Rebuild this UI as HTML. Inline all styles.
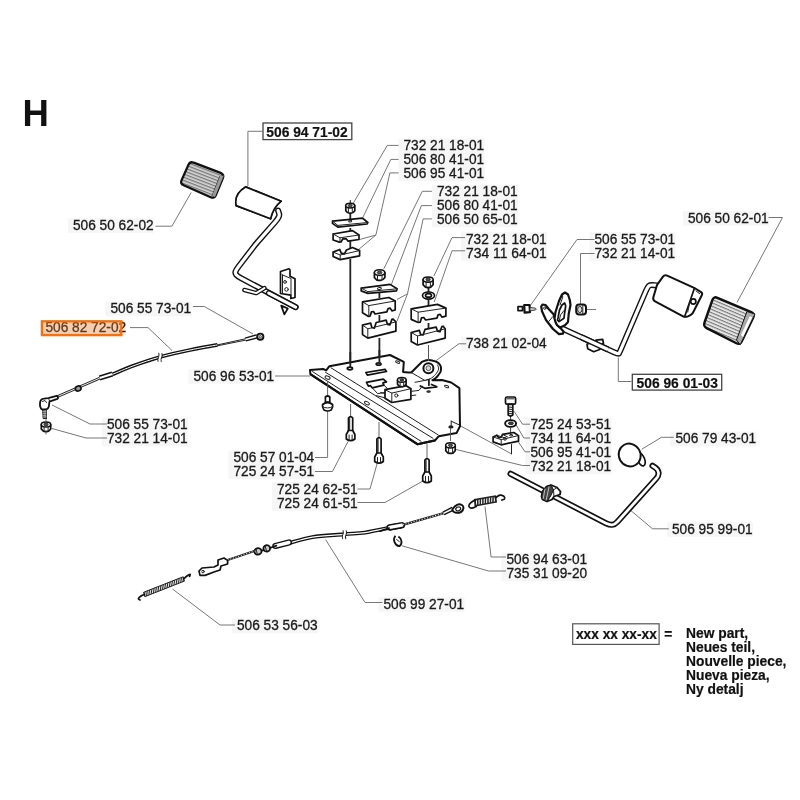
<!DOCTYPE html>
<html><head><meta charset="utf-8"><title>H</title>
<style>
html,body{margin:0;padding:0;background:#fff;}
svg{display:block;font-family:"Liberation Sans",sans-serif;}
.t{font-size:13.8px;fill:#1a1a1a;stroke:#1a1a1a;stroke-width:0.3px;}
.b{font-size:13.8px;font-weight:bold;fill:#111;stroke:#111;stroke-width:0.2px;}
.ld{fill:none;stroke:#777;stroke-width:1;}
.p{fill:none;stroke:#111;stroke-width:1.7;stroke-linejoin:round;stroke-linecap:round;}
.pf{fill:#fff;stroke:#111;stroke-width:1.7;stroke-linejoin:round;stroke-linecap:round;}
.th{fill:none;stroke:#222;stroke-width:1;stroke-linejoin:round;stroke-linecap:round;}
.thf{fill:#fff;stroke:#222;stroke-width:1;stroke-linejoin:round;stroke-linecap:round;}
</style></head><body>
<svg width="800" height="800" viewBox="0 0 800 800">
<rect width="800" height="800" fill="#fff"/>
<rect x="667.0" y="522.2" width="86" height="14.5" fill="#f6f6f6"/>
<rect x="501.5" y="566.7" width="86" height="14.5" fill="#f6f6f6"/>
<rect x="501.5" y="552.7" width="86" height="14.5" fill="#f6f6f6"/>
<rect x="378.5" y="597.2" width="86" height="14.5" fill="#f6f6f6"/>
<rect x="232.0" y="618.7" width="86" height="14.5" fill="#f6f6f6"/>
<rect x="272.0" y="496.2" width="86" height="14.5" fill="#f6f6f6"/>
<rect x="272.0" y="482.2" width="86" height="14.5" fill="#f6f6f6"/>
<rect x="228.5" y="464.7" width="86" height="14.5" fill="#f6f6f6"/>
<rect x="228.5" y="450.7" width="86" height="14.5" fill="#f6f6f6"/>
<rect x="102.0" y="431.7" width="86" height="14.5" fill="#f6f6f6"/>
<rect x="102.0" y="417.7" width="86" height="14.5" fill="#f6f6f6"/>
<rect x="188.5" y="369.2" width="86" height="14.5" fill="#f6f6f6"/>
<rect x="40.5" y="320.7" width="86" height="14.5" fill="#f6f6f6"/>
<rect x="105.5" y="301.7" width="86" height="14.5" fill="#f6f6f6"/>
<rect x="670.5" y="431.7" width="86" height="14.5" fill="#f6f6f6"/>
<rect x="525.5" y="459.7" width="86" height="14.5" fill="#f6f6f6"/>
<rect x="525.5" y="445.7" width="86" height="14.5" fill="#f6f6f6"/>
<rect x="525.5" y="431.7" width="86" height="14.5" fill="#f6f6f6"/>
<rect x="525.5" y="417.7" width="86" height="14.5" fill="#f6f6f6"/>
<rect x="461.0" y="336.7" width="86" height="14.5" fill="#f6f6f6"/>
<rect x="683.0" y="211.2" width="86" height="14.5" fill="#f6f6f6"/>
<rect x="589.5" y="246.2" width="86" height="14.5" fill="#f6f6f6"/>
<rect x="589.5" y="232.2" width="86" height="14.5" fill="#f6f6f6"/>
<rect x="461.0" y="246.2" width="86" height="14.5" fill="#f6f6f6"/>
<rect x="461.0" y="232.2" width="86" height="14.5" fill="#f6f6f6"/>
<rect x="432.0" y="212.7" width="86" height="14.5" fill="#f6f6f6"/>
<rect x="432.0" y="198.7" width="86" height="14.5" fill="#f6f6f6"/>
<rect x="432.0" y="184.7" width="86" height="14.5" fill="#f6f6f6"/>
<rect x="398.5" y="166.7" width="86" height="14.5" fill="#f6f6f6"/>
<rect x="398.5" y="152.7" width="86" height="14.5" fill="#f6f6f6"/>
<rect x="398.5" y="138.7" width="86" height="14.5" fill="#f6f6f6"/>
<rect x="68.0" y="218.3" width="86" height="14.5" fill="#f6f6f6"/>
<rect x="263" y="123" width="88.8" height="16.6" fill="#fff" stroke="#444" stroke-width="1.3"/>
<rect x="632.3" y="374.3" width="89.4" height="15.8" fill="#fff" stroke="#444" stroke-width="1.3"/>
<rect x="572.7" y="623.8" width="86.4" height="20.6" fill="#fff" stroke="#555" stroke-width="1.2"/>
<path class="ld" d="M155.5,226.2 L171.9,226.2 L191.2,192.5"/>
<path class="ld" d="M262.5,131.3 L247.9,131.3 L247.9,186.0"/>
<path class="ld" d="M398.6,145.4 L387.3,145.4 L353.1,203.5"/>
<path class="ld" d="M398.6,159.4 L390.8,159.4 L362.8,217.5"/>
<path class="ld" d="M398.6,172.9 L389.9,172.9 L375.9,235.0 L360.1,239.4"/>
<path class="ld" d="M375.9,235.0 L357.5,250.4"/>
<path class="ld" d="M431.9,191.3 L422.3,191.3 L383.8,268.8"/>
<path class="ld" d="M431.9,205.6 L421.4,205.6 L391.2,285.0"/>
<path class="ld" d="M431.9,218.9 L423.1,218.9 L407.5,293.8 L397.0,299.5"/>
<path class="ld" d="M407.5,293.8 L397.0,321.2"/>
<path class="ld" d="M465.1,237.6 L452.0,237.6 L433.8,276.2"/>
<path class="ld" d="M465.1,250.8 L452.0,250.8 L434.2,302.0"/>
<path class="ld" d="M275.0,376.0 L310.0,376.0"/>
<path class="ld" d="M466.2,343.8 L458.8,343.8 L436.2,360.6"/>
<path class="ld" d="M315.0,457.5 L327.6,457.5 L327.6,411.0"/>
<path class="ld" d="M315.0,471.5 L332.5,471.5 L348.0,441.5"/>
<path class="ld" d="M357.5,489.0 L370.0,489.0 L377.0,464.0"/>
<path class="ld" d="M357.5,502.5 L385.0,502.5 L422.0,481.5"/>
<path class="ld" d="M530.0,465.5 L522.5,465.5 L456.0,449.5"/>
<path class="ld" d="M451.3,420.8 L511.3,453.8"/>
<path class="ld" d="M530.0,424.2 L522.5,424.2 L514.0,411.2"/>
<path class="ld" d="M530.0,438.0 L523.8,438.0 L516.2,425.0"/>
<path class="ld" d="M530.0,451.8 L525.0,451.8 L518.5,442.0"/>
<path class="ld" d="M587.0,309.5 L596.0,309.5"/>
<path class="ld" d="M594.5,239.5 L577.0,239.5 L530.0,306.0"/>
<path class="ld" d="M594.5,253.5 L580.5,253.5 L580.5,304.0"/>
<path class="ld" d="M631.5,381.5 L618.3,381.5 L618.3,357.5"/>
<path class="ld" d="M768.5,217.5 L782.5,217.5 L737.0,302.5"/>
<path class="ld" d="M673.8,437.3 L661.5,437.3 L641.8,449.2"/>
<path class="ld" d="M668.8,528.8 L652.5,528.8 L628.8,508.8"/>
<path class="ld" d="M192.9,306.5 L204.3,306.5 L253.0,334.0"/>
<path class="ld" d="M130.0,327.6 L148.0,327.6 L172.0,350.5"/>
<path class="ld" d="M107.0,424.0 L90.0,424.0 L52.0,405.0"/>
<path class="ld" d="M107.0,438.0 L86.0,438.0 L52.0,428.5"/>
<path class="ld" d="M382.5,602.5 L365.0,602.5 L325.6,539.6"/>
<path class="ld" d="M506.0,571.0 L488.5,571.0 L402.0,545.8"/>
<path class="ld" d="M506.0,557.0 L491.1,557.0 L485.0,506.5"/>
<path class="ld" d="M235.0,625.0 L220.0,625.0 L172.5,589.0"/>
<defs><pattern id="ribs" width="3" height="3" patternUnits="userSpaceOnUse" patternTransform="rotate(21)"><rect width="3" height="3" fill="#d8d8d8"/><rect width="3" height="1.3" fill="#777"/></pattern><pattern id="ribs2" width="3" height="3" patternUnits="userSpaceOnUse" patternTransform="rotate(112)"><rect width="3" height="3" fill="#e4e4e4"/><rect width="3" height="1.2" fill="#666"/></pattern></defs>
<path d="M188.4,164.9 Q190.0,161.2 193.7,162.7 L220.6,172.9 Q224.4,174.4 222.9,178.1 L215.9,195.0 Q214.4,198.8 210.7,197.2 L183.7,185.3 Q180.0,183.8 181.6,180.1 Z" fill="url(#ribs)" stroke="#111" stroke-width="2.3" stroke-linejoin="round"/>
<path class="th" d="M219.8,176.5 L212.2,195.6"/>
<path d="M220.0,176.2 L223.8,175.6 L215.0,196.9 L212.2,195.6 Z" fill="#999" stroke="none"/>
<path class="pf" d="M245.6,186.9 L281.2,201.2 Q273.1,207.5 270.6,218.8 L236.2,205.6 Q233.8,193.8 245.6,186.9 Z"/>
<path d="M278.1,210.6 L278.9,212.8 Q279.8,215.0 278.6,217.2 L278.6,217.2 Q277.5,219.4 274.9,222.4 L257.6,242.0 Q255.0,245.0 252.6,248.2 L238.4,266.8 Q236.0,270.0 235.5,271.6 L235.5,271.6 Q235.0,273.1 236.2,274.7 L236.2,274.7 Q237.5,276.2 241.0,278.1 L295.6,307.1" fill="none" stroke="#111" stroke-width="6.00" stroke-linecap="round" stroke-linejoin="round"/>
<path d="M278.1,210.6 L278.9,212.8 Q279.8,215.0 278.6,217.2 L278.6,217.2 Q277.5,219.4 274.9,222.4 L257.6,242.0 Q255.0,245.0 252.6,248.2 L238.4,266.8 Q236.0,270.0 235.5,271.6 L235.5,271.6 Q235.0,273.1 236.2,274.7 L236.2,274.7 Q237.5,276.2 241.0,278.1 L295.6,307.1" fill="none" stroke="#fff" stroke-width="3.20" stroke-linecap="round" stroke-linejoin="round"/>
<path class="pf" d="M245.6,186.9 L281.2,201.2 Q273.1,207.5 270.6,218.8 L236.2,205.6 Q233.8,193.8 245.6,186.9 Z"/>
<path d="M264.4,288.1 L256.2,293.1 L244.4,290.0" fill="none" stroke="#111" stroke-width="4.50" stroke-linecap="round" stroke-linejoin="round"/>
<path d="M264.4,288.1 L256.2,293.1 L244.4,290.0" fill="none" stroke="#fff" stroke-width="1.90" stroke-linecap="round" stroke-linejoin="round"/>
<path class="pf" d="M280.5,271.5 L289.0,268.8 L290.0,270.0 L290.0,276.2 L295.0,278.8 L295.0,297.5 L290.8,298.5 L290.8,295.2 L280.5,293.5 Z"/>
<path class="th" d="M282.2,274.8 L291.0,278.5 L291.0,295.2"/>
<path class="th" d="M282.5,275.0 L282.5,293.1"/>
<circle class="th" cx="285.0" cy="281.9" r="1.4"/>
<circle class="th" cx="286.5" cy="289.4" r="1.8"/>
<path class="pf" d="M281.2,305.6 L284.4,314.4 L287.8,308.5 Z"/>
<path d="M268.8,293.1 L295.6,307.1" fill="none" stroke="#111" stroke-width="6.00" stroke-linecap="round" stroke-linejoin="round"/>
<path d="M268.8,293.1 L295.6,307.1" fill="none" stroke="#fff" stroke-width="3.20" stroke-linecap="round" stroke-linejoin="round"/>
<path d="M350.3,200.0 L350.3,203.0" stroke="#222" stroke-width="1.0" fill="none"/>
<path d="M350.3,213.0 L350.3,221.0" stroke="#222" stroke-width="1.8" fill="none"/>
<path d="M350.3,228.0 L350.3,234.0" stroke="#222" stroke-width="1.8" fill="none"/>
<path d="M350.3,241.0 L350.3,249.0" stroke="#222" stroke-width="1.8" fill="none"/>
<path d="M350.3,259.0 L350.3,367.0" stroke="#222" stroke-width="1.8" fill="none"/>
<path class="pf" d="M332.5,221.2 L362.5,218.1 L367.8,222.5 L367.2,224.0 L337.8,227.1 L332.5,223.4 Z"/>
<path class="th" d="M332.5,221.2 L337.8,225.4 L367.8,222.5"/>
<path class="th" d="M337.8,225.4 L337.8,227.1"/>
<ellipse class="th" cx="350.2" cy="221.2" rx="1.6" ry="0.8" transform="rotate(-8 350.2 221.2)"/>
<path class="pf" d="M333.1,234.0 L352.5,230.6 L359.0,235.0 L359.0,239.5 L348.1,241.2 L346.2,238.8 L342.8,238.8 L341.0,242.0 L339.4,242.1 L333.1,240.0 Z"/>
<path class="th" d="M333.1,234.0 L340.0,237.8 L359.0,235.0"/>
<path class="th" d="M340.0,237.8 L340.0,242.0"/>
<path class="pf" d="M333.1,252.1 L339.8,249.5 L341.2,253.1 L344.4,253.8 L346.5,250.0 L352.5,247.5 L359.6,250.6 L359.6,255.8 L340.2,259.6 L333.1,256.5 Z"/>
<path class="th" d="M333.1,252.1 L340.2,255.0 L359.6,250.6"/>
<path class="th" d="M340.2,255.0 L340.2,259.6"/>
<path class="pf" d="M345.8,205.6 L345.8,210.7 Q348.0,213.9 350.2,213.1 Q352.5,213.9 354.8,210.7 L354.8,205.6 Z" fill="#eee"/>
<ellipse cx="350.2" cy="205.6" rx="4.5" ry="2.4" fill="#fff" stroke="#111" stroke-width="1.5"/>
<ellipse cx="350.2" cy="205.6" rx="2.0" ry="1.2" fill="#555" stroke="#111" stroke-width="0.8"/>
<path class="th" d="M348.4,208.0 L348.4,212.6 M352.3,208.0 L352.3,212.6" stroke="#888"/>
<path d="M379.4,286.0 L379.4,289.0" stroke="#222" stroke-width="1.8" fill="none"/>
<path d="M379.4,292.0 L379.4,298.0" stroke="#222" stroke-width="1.8" fill="none"/>
<path d="M379.4,315.0 L379.4,321.0" stroke="#222" stroke-width="1.8" fill="none"/>
<path d="M379.4,338.0 L379.4,363.0" stroke="#222" stroke-width="1.8" fill="none"/>
<path class="pf" d="M361.2,288.1 L390.0,284.4 L397.1,288.8 L396.5,290.8 L367.8,293.4 L361.2,290.9 Z"/>
<path class="th" d="M361.2,288.1 L367.8,291.6 L397.1,288.8"/>
<path class="th" d="M367.8,291.6 L367.8,293.4"/>
<ellipse class="th" cx="379.4" cy="288.5" rx="2.0" ry="1.0" transform="rotate(-8 379.4 288.5)"/>
<path class="pf" d="M362.5,301.9 L388.8,297.5 L395.2,301.0 L395.2,310.0 L391.9,310.9 L390.2,308.1 L388.1,308.5 L386.9,311.9 L375.0,314.0 L373.5,311.5 L371.5,311.9 L370.0,316.2 L368.5,316.5 L362.5,312.8 Z"/>
<path class="th" d="M362.5,301.9 L368.8,305.6 L395.2,301.0"/>
<path class="th" d="M368.8,305.6 L368.8,316.2"/>
<path class="pf" d="M362.5,325.0 L370.6,323.1 L371.9,327.5 L374.4,328.1 L376.2,322.5 L386.2,320.2 L387.5,324.4 L390.0,324.8 L391.9,319.4 L393.1,319.1 L395.9,321.9 L395.9,331.2 L367.8,338.1 L362.5,334.6 Z"/>
<path class="th" d="M362.5,325.0 L367.8,328.8 L395.9,321.9"/>
<path class="th" d="M367.8,328.8 L367.8,338.1"/>
<path class="pf" d="M374.4,272.6 L374.4,277.4 Q377.0,281.1 379.6,280.2 Q382.2,281.1 384.9,277.4 L384.9,272.6 Z" fill="#eee"/>
<ellipse cx="379.6" cy="272.6" rx="5.2" ry="2.8" fill="#fff" stroke="#111" stroke-width="1.5"/>
<ellipse cx="379.6" cy="272.6" rx="2.4" ry="1.4" fill="#555" stroke="#111" stroke-width="0.8"/>
<path class="th" d="M377.5,275.4 L377.5,279.8 M382.0,275.4 L382.0,279.8" stroke="#888"/>
<path d="M428.5,288.0 L428.5,292.0" stroke="#222" stroke-width="1.8" fill="none"/>
<path d="M428.5,299.0 L428.5,306.0" stroke="#222" stroke-width="1.8" fill="none"/>
<path d="M428.5,323.0 L428.5,329.0" stroke="#222" stroke-width="1.8" fill="none"/>
<path d="M428.5,345.0 L428.5,361.0" stroke="#555" stroke-width="1.0" fill="none"/>
<path class="pf" d="M411.2,308.8 L437.5,304.4 L445.9,308.1 L445.9,316.2 L441.9,317.1 L440.2,314.4 L438.1,314.8 L436.9,318.1 L425.6,320.0 L423.8,317.5 L421.5,317.9 L420.2,322.2 L418.1,322.5 L411.2,319.4 Z"/>
<path class="th" d="M411.2,308.8 L418.1,312.2 L445.9,308.1"/>
<path class="th" d="M418.1,312.2 L418.1,322.5"/>
<path class="pf" d="M411.2,332.5 L419.4,330.4 L420.6,334.4 L423.1,335.0 L425.0,329.4 L436.2,327.2 L437.5,331.2 L440.0,331.6 L441.9,326.5 L443.1,326.2 L445.2,328.8 L445.2,338.1 L417.5,345.0 L411.2,341.5 Z"/>
<path class="th" d="M411.2,332.5 L417.5,336.0 L445.2,328.8"/>
<path class="th" d="M417.5,336.0 L417.5,345.0"/>
<ellipse class="pf" cx="428.5" cy="295.6" rx="6.0" ry="3.6" transform="rotate(0 428.5 295.6)"/>
<ellipse class="pf" cx="428.5" cy="295.4" rx="3.0" ry="1.7" transform="rotate(0 428.5 295.4)"/>
<path class="pf" d="M423.1,279.6 L423.1,284.7 Q425.6,288.2 428.1,287.4 Q430.6,288.2 433.1,284.7 L433.1,279.6 Z" fill="#eee"/>
<ellipse cx="428.1" cy="279.6" rx="5.0" ry="2.7" fill="#fff" stroke="#111" stroke-width="1.5"/>
<ellipse cx="428.1" cy="279.6" rx="2.2" ry="1.4" fill="#555" stroke="#111" stroke-width="0.8"/>
<path class="th" d="M426.1,282.3 L426.1,286.9 M430.4,282.3 L430.4,286.9" stroke="#888"/>
<path d="M310.0,370.0 L323.1,369.0 L326.2,370.4 L329.4,366.2 L390.0,355.0 L403.8,361.9 L403.1,371.9 L408.3,372.5 L411.3,372.5 L421.8,362.0 C422.3,361.8 423.6,361.0 424.8,360.7 C425.9,360.3 427.1,360.1 428.5,360.1 C429.9,360.1 431.5,360.3 433.0,360.7 C434.5,361.0 436.3,361.7 437.5,362.4 C438.7,363.1 439.5,364.1 440.1,365.0 C440.7,365.9 441.0,366.9 441.0,368.0 C441.1,369.1 441.0,370.6 440.5,371.8 C440.0,372.9 439.0,374.1 438.3,375.1 C437.5,376.1 437.0,376.9 436.0,377.8 C435.0,378.6 433.0,379.8 432.4,380.2 L442.0,380.0 L451.2,382.5 L459.4,388.1 L460.0,426.2 L456.5,433.1 L438.8,436.2 L435.0,440.5 L417.5,444.3 L310.4,374.2 Z" fill="#fff" stroke="#111" stroke-width="2" stroke-linejoin="round"/>
<path class="th" d="M312.5,371.6 L421.0,441.3"/>
<path class="th" d="M325.5,372.3 L433.0,438.3"/>
<path class="th" d="M331.0,367.8 L438.0,434.8"/>
<path d="M310.6,374.4 L417.5,444.2 L435,440.4" fill="none" stroke="#111" stroke-width="2.2" stroke-linejoin="round"/>
<path class="th" d="M437.5,365.0 C437.7,365.7 438.9,367.6 438.6,369.1 C438.3,370.7 437.0,372.8 435.6,374.4 C434.3,376.0 432.0,377.8 430.4,378.7 C428.8,379.7 426.6,379.9 425.9,380.2"/>
<circle cx="428.4" cy="368.2" r="5.0" fill="#fff" stroke="#111" stroke-width="2.0"/>
<circle cx="428.4" cy="368.2" r="2.4" fill="#ddd" stroke="#555" stroke-width="1.0"/>
<path class="th" d="M411.3,372.5 L424.8,380.4"/>
<path class="th" d="M415.0,382.3 L424.8,380.4 L430.0,378.9"/>
<path class="p" d="M428.9,380.0 L428.9,385.3"/>
<path class="p" d="M420.3,386.0 L424.8,388.3 L436.8,386.8 L431.5,384.5"/>
<ellipse class="th" cx="327.6" cy="377.6" rx="2.6" ry="1.5" transform="rotate(20 327.6 377.6)"/>
<ellipse class="th" cx="366.9" cy="403.1" rx="2.6" ry="1.4" transform="rotate(25 366.9 403.1)"/>
<ellipse class="p" cx="349.9" cy="368.5" rx="2.6" ry="1.3" transform="rotate(0 349.9 368.5)"/>
<ellipse class="p" cx="378.6" cy="364.0" rx="2.4" ry="1.2" transform="rotate(0 378.6 364.0)"/>
<ellipse class="th" cx="397.7" cy="362.1" rx="2.2" ry="1.0" transform="rotate(20 397.7 362.1)"/>
<ellipse class="th" cx="446.6" cy="386.5" rx="2.2" ry="1.0" transform="rotate(20 446.6 386.5)"/>
<ellipse cx="428.6" cy="391.6" rx="2.3" ry="1.3" fill="#333"/>
<ellipse cx="450.9" cy="426.9" rx="2.6" ry="1.6" fill="#222"/>
<path class="th" d="M451.2,421.2 L451.2,426.2"/>
<path class="th" d="M451.2,421.2 L459.4,425.0"/>
<path class="p" d="M365.9,372.5 L385.0,369.3 L386.5,371.5 L367.4,375.1 Z"/>
<path class="p" d="M366.5,382.3 L383.3,379.1 L386.5,381.9 L382.9,382.9 L383.9,385.1 L372.2,387.8 L370.5,385.7 L368.4,386.1 Z"/>
<path class="th" d="M372.2,387.8 L377.6,393.6 L385.0,392.5"/>
<path class="th" d="M383.9,385.1 L387.1,388.2"/>
<path class="pf" d="M385.0,389.7 L406.2,385.7 L410.9,388.7 L410.9,399.3 L391.8,402.5 L385.0,398.2 Z"/>
<path class="th" d="M385.0,389.7 L391.8,393.1 L410.9,388.7"/>
<path class="th" d="M391.8,393.1 L391.8,402.5"/>
<circle class="th" cx="396.3" cy="395.5" r="1.6"/>
<path class="th" d="M410.9,391.4 L419.0,390.4 L422.2,386.1"/>
<path class="th" d="M410.9,395.7 L415.8,395.0"/>
<path class="pf" d="M397.5,379.9 L397.5,384.3 Q399.6,387.4 401.8,386.6 Q403.9,387.4 406.1,384.3 L406.1,379.9 Z" fill="#eee"/>
<ellipse cx="401.8" cy="379.9" rx="4.3" ry="2.3" fill="#fff" stroke="#111" stroke-width="1.5"/>
<ellipse cx="401.8" cy="379.9" rx="1.9" ry="1.2" fill="#555" stroke="#111" stroke-width="0.8"/>
<path class="th" d="M400.1,382.2 L400.1,386.1 M403.7,382.2 L403.7,386.1" stroke="#888"/>
<path class="th" d="M376.5,395.7 L385.0,397.8"/>
<path class="th" d="M380.7,392.5 L385.0,393.6"/>
<path d="M350.3,352.0 L350.3,367.5" stroke="#222" stroke-width="1.8" fill="none"/>
<path d="M379.4,350.0 L379.4,363.5" stroke="#222" stroke-width="1.8" fill="none"/>
<path d="M428.5,345.0 L428.5,361.0" stroke="#555" stroke-width="1.0" fill="none"/>
<path d="M327.6,381.0 L327.6,396.0" stroke="#555" stroke-width="0.9" fill="none"/>
<path class="pf" d="M325.40000000000003,402 L325.40000000000003,397 Q327.6,395 329.8,397 L329.8,402 Z"/>
<path class="pf" d="M322.6,404.5 Q327.6,400.5 332.6,404.5 L332.6,407 L331.20000000000005,410 Q327.6,412 324.0,410 L322.6,407 Z" fill="#ddd"/>
<path class="th" d="M322.6,406.6 Q327.6,409.5 332.6,406.6"/>
<path d="M350.6,404.0 L350.6,416.0" stroke="#555" stroke-width="0.9" fill="none"/>
<path class="pf" d="M348.5,433.5 L348.5,418.0 Q350.6,415.3 352.7,418.0 L352.7,433.5 Z"/>
<path class="pf" d="M348.5,430.5 L346.3,434.5 L346.3,439.0 Q350.6,442.3 354.9,439.0 L354.9,434.5 L352.7,430.5 Z" fill="#ddd"/>
<path class="th" d="M349.1,435.0 L349.1,440.0 M352.1,435.0 L352.1,440.0" stroke="#666"/>
<path class="th" d="M349.7,418.5 L349.7,430.5" stroke="#888"/>
<path d="M379.0,422.0 L379.0,437.0" stroke="#555" stroke-width="0.9" fill="none"/>
<path class="pf" d="M376.9,456.0 L376.9,439.0 Q379.0,436.3 381.1,439.0 L381.1,456.0 Z"/>
<path class="pf" d="M376.9,453.0 L374.7,457.0 L374.7,461.5 Q379.0,464.8 383.3,461.5 L383.3,457.0 L381.1,453.0 Z" fill="#ddd"/>
<path class="th" d="M377.5,457.5 L377.5,462.5 M380.5,457.5 L380.5,462.5" stroke="#666"/>
<path class="th" d="M378.1,439.5 L378.1,453.0" stroke="#888"/>
<path d="M427.0,444.0 L427.0,458.0" stroke="#555" stroke-width="0.9" fill="none"/>
<path class="pf" d="M424.9,475.0 L424.9,460.0 Q427.0,457.3 429.1,460.0 L429.1,475.0 Z"/>
<path class="pf" d="M424.9,472.0 L422.7,476.0 L422.7,481.0 Q427.0,484.3 431.3,481.0 L431.3,476.0 L429.1,472.0 Z" fill="#ddd"/>
<path class="th" d="M425.5,476.5 L425.5,482.0 M428.5,476.5 L428.5,482.0" stroke="#666"/>
<path class="th" d="M426.1,460.5 L426.1,472.0" stroke="#888"/>
<path d="M450.5,428.0 L450.5,441.0" stroke="#555" stroke-width="0.9" fill="none"/>
<path class="pf" d="M445.8,445.3 L445.8,450.7 Q448.1,454.1 450.5,453.2 Q452.9,454.1 455.2,450.7 L455.2,445.3 Z" fill="#eee"/>
<ellipse cx="450.5" cy="445.3" rx="4.8" ry="2.6" fill="#fff" stroke="#111" stroke-width="1.5"/>
<ellipse cx="450.5" cy="445.3" rx="2.1" ry="1.3" fill="#555" stroke="#111" stroke-width="0.8"/>
<path class="th" d="M448.6,447.9 L448.6,452.8 M452.6,447.9 L452.6,452.8" stroke="#888"/>
<path class="pf" d="M505.5,398.5 Q505.5,397.0 507.0,397.0 L514.1,397.0 Q515.6,397.0 515.6,398.5 L515.6,402.8 Q515.6,404.2 514.1,404.2 L507.0,404.2 Q505.5,404.2 505.5,402.8 Z"/>
<path class="th" d="M507.2,398.8 L514.0,398.8"/>
<path class="pf" d="M508.2,404.4 L512.8,404.4 L512.8,415.0 L510.5,416.2 L508.2,415.0 Z" fill="#ddd"/>
<path class="th" d="M508.2,406.9 L512.8,407.5"/>
<path class="th" d="M508.2,409.0 L512.8,409.6"/>
<path class="th" d="M508.2,411.1 L512.8,411.8"/>
<path class="th" d="M508.2,413.2 L512.8,413.9"/>
<path d="M510.6,417.0 L510.6,420.0" stroke="#444" stroke-width="1.0" fill="none"/>
<ellipse cx="510.6" cy="423.5" rx="5.5" ry="3.4" fill="#fff" stroke="#111" stroke-width="1.9"/>
<ellipse cx="510.9" cy="423.3" rx="2.5" ry="1.4" fill="#444" stroke="#111" stroke-width="0.8"/>
<path d="M510.6,427.5 L510.6,433.0" stroke="#444" stroke-width="1.0" fill="none"/>
<path class="pf" d="M493.1,437.0 L496.9,435.2 L498.8,437.8 L501.2,437.2 L502.5,434.4 L513.8,432.5 L518.5,435.6 L518.5,441.2 L501.2,444.8 L493.1,441.9 Z"/>
<path class="th" d="M493.1,437.0 L501.2,439.6 L518.5,435.6"/>
<path class="th" d="M501.2,439.6 L501.2,444.8"/>
<path class="th" d="M496.9,435.2 L505.0,438.1"/>
<path class="th" d="M502.5,434.4 L507.5,436.9"/>
<circle class="th" cx="505.0" cy="438.8" r="1.4"/>
<ellipse class="th" cx="511.0" cy="435.2" rx="1.6" ry="0.8" transform="rotate(0 511.0 435.2)"/>
<path class="th" d="M511.5,444.5 L511.5,453.8"/>
<path d="M562.2,328.5 L614.0,352.2 Q618.5,354.3 618.8,353.8 L618.8,353.8 Q619.2,353.2 621.2,348.6 L645.7,291.4 Q647.7,286.8 649.0,285.7 L649.0,285.7 Q650.2,284.7 654.4,285.2 L658.5,285.7" fill="none" stroke="#111" stroke-width="6.00" stroke-linecap="round" stroke-linejoin="round"/>
<path d="M562.2,328.5 L614.0,352.2 Q618.5,354.3 618.8,353.8 L618.8,353.8 Q619.2,353.2 621.2,348.6 L645.7,291.4 Q647.7,286.8 649.0,285.7 L649.0,285.7 Q650.2,284.7 654.4,285.2 L658.5,285.7" fill="none" stroke="#fff" stroke-width="3.20" stroke-linecap="round" stroke-linejoin="round"/>
<path class="pf" d="M587.0,344.2 L593.0,342.0 L599.0,345.0 L599.7,349.5 L593.7,351.7 L587.7,348.7 Z"/>
<path class="pf" d="M596.0,340.2 L602.7,339.3 L603.5,343.5 L599.0,345.0 Z"/>
<path d="M581.0,337.0 L608.0,349.5" fill="none" stroke="#111" stroke-width="6.00" stroke-linecap="butt" stroke-linejoin="round"/>
<path d="M581.0,337.0 L608.0,349.5" fill="none" stroke="#fff" stroke-width="3.20" stroke-linecap="butt" stroke-linejoin="round"/>
<path d="M541.2,306.5 L542.5,304.5 L545.5,305.0 L548.5,308.8 L553.5,314.2 L554.8,318.5 L557.0,325.0 L560.2,327.8 L563.5,331.5 L563.0,333.7 L559.0,334.2 L553.0,329.0 L546.0,320.0 L542.0,311.2 Z" fill="#fff" stroke="#111" stroke-width="2.2" stroke-linejoin="round"/>
<circle class="th" cx="544.8" cy="308.2" r="1.2"/>
<path class="th" d="M549.0,321.2 L552.8,316.6"/>
<path d="M554.5,318.5 L555.5,312.0 L559.0,301.0 L562.0,294.5 L565.0,292.5 L568.0,294.5 L569.8,300.0 L570.5,305.0 L568.7,314.0 L568.0,322.0 L565.0,325.2 L560.2,327.5 L557.0,325.0 L555.5,322.0 Z" fill="#fff" stroke="#111" stroke-width="2.2" stroke-linejoin="round"/>
<path class="p" d="M558.0,318.0 L559.5,310.0 L562.0,305.0 L564.7,303.0 L565.7,306.0 L564.6,313.0 L564.0,318.2 L559.0,321.6 L557.5,320.0 Z"/>
<path class="th" d="M559.0,321.6 L560.5,315.0 L564.0,310.5"/>
<path class="th" d="M562.0,294.5 L562.8,297.0 L560.0,305.0"/>
<path class="pf" d="M518.0,306.6 L522.5,306.6 L522.5,310.6 L518.0,310.6 Z"/>
<path d="M524.2,305.0 L529.5,305.0 L530.0,312.2 L524.6,312.6 Z" fill="#fff" stroke="#111" stroke-width="2.2" stroke-linejoin="round"/>
<path class="th" d="M522.5,307.6 L524.2,307.6"/>
<path class="th" d="M522.5,309.8 L524.2,309.8"/>
<path d="M530.0,307.4 L535.5,308.2 L536.2,309.2 L535.5,310.0 L530.0,310.8 Z" fill="#ccc" stroke="#333" stroke-width="0.9"/>
<rect x="576.2" y="304.5" width="9.8" height="10" rx="3" fill="#fff" stroke="#111" stroke-width="2"/>
<ellipse cx="579.8" cy="309.5" rx="2.2" ry="3.1" fill="#ddd" stroke="#222" stroke-width="1"/>
<path class="th" d="M582.8,305.0 L582.8,314.0"/>
<path d="M662.8,276.9 Q664.5,274.5 667.2,275.7 L693.6,287.6 Q694.5,288.0 695.3,288.5 L701.1,292.2 Q702.7,293.2 701.9,295.0 L693.1,312.5 Q692.2,314.2 690.4,315.1 L687.9,316.3 Q685.2,317.5 682.6,316.1 L655.1,301.4 Q652.5,300.0 653.4,297.1 L656.7,286.0 Q657.0,285.0 657.6,284.2 Z" fill="#fff" stroke="#111" stroke-width="2" stroke-linejoin="round"/>
<path class="p" d="M694.5,288.0 L684.7,316.5"/>
<path class="th" d="M690.0,301.5 L687.7,312.0"/>
<circle class="pf" cx="693.3" cy="301.5" r="2.6"/>
<path class="th" d="M696.0,291.0 L699.7,293.7"/>
<path d="M712.4,300.0 Q713.8,296.2 717.4,297.8 L751.3,312.2 Q755.0,313.8 753.3,317.4 L741.7,341.4 Q740.0,345.0 736.4,343.2 L706.7,328.1 Q703.1,326.2 704.5,322.5 Z" fill="url(#ribsR)" stroke="#111" stroke-width="2.4" stroke-linejoin="round"/>
<defs><pattern id="ribsR" width="3.1" height="3.1" patternUnits="userSpaceOnUse" patternTransform="rotate(23)"><rect width="3.1" height="3.1" fill="#e6e6e6"/><rect width="3.1" height="1.1" fill="#777"/></pattern></defs>
<path d="M746.9,311.5 L755.0,314.0 L740.2,344.8 L736.5,340.0 Z" fill="#aaa" stroke="#111" stroke-width="1"/>
<path d="M749.8,316.2 L752.2,317.2 L743.1,336.9 L741.0,335.0 Z" fill="#fff" stroke="none"/>
<path d="M510.5,473.8 L605.9,523.2 Q609.5,525.0 612.2,524.8 L612.2,524.8 Q615.0,524.5 617.7,521.5 L656.3,478.5 Q659.0,475.5 658.5,472.5 L658.5,472.5 Q658.0,469.5 655.2,467.6 L652.5,465.8" fill="none" stroke="#111" stroke-width="6.10" stroke-linecap="round" stroke-linejoin="round"/>
<path d="M510.5,473.8 L605.9,523.2 Q609.5,525.0 612.2,524.8 L612.2,524.8 Q615.0,524.5 617.7,521.5 L656.3,478.5 Q659.0,475.5 658.5,472.5 L658.5,472.5 Q658.0,469.5 655.2,467.6 L652.5,465.8" fill="none" stroke="#fff" stroke-width="2.70" stroke-linecap="round" stroke-linejoin="round"/>
<path d="M541.5,496.5 L542.5,491.5 L546.5,486.5 L551.0,485.0 L557.0,487.5 L560.5,491.5 L560.0,494.5 L554.0,496.5 L552.0,499.5 L547.0,501.5 L542.5,499.5 Z" fill="#fff" stroke="#111" stroke-width="1.8" stroke-linejoin="round"/>
<path d="M541.5,496.5 L542.5,491.5 L546.5,486.5 L551.0,485.0 L553.5,490.0 L550.5,496.2 L547.0,501.5 L542.5,499.5 Z" fill="#444" stroke="#111" stroke-width="1" stroke-linejoin="round"/>
<path class="th" d="M545.0,489.0 L543.2,498.5" style="stroke:#ddd;stroke-width:0.8"/>
<path class="th" d="M549.0,487.0 L546.2,500.0" style="stroke:#ddd;stroke-width:0.8"/>
<path class="th" d="M553.5,490.0 L557.0,487.5"/>
<path class="th" d="M553.5,490.0 L554.0,496.5"/>
<ellipse class="pf" cx="641.2" cy="459.5" rx="3.4" ry="6.8" transform="rotate(-22 641.2 459.5)"/>
<ellipse cx="629.7" cy="455" rx="10.8" ry="11.6" fill="#fff" stroke="#111" stroke-width="1.9" transform="rotate(-30 629.7 455)"/>
<path d="M112.4,374.4 C116.0,372.9 126.1,368.5 134.0,365.6 C141.9,362.7 150.7,359.6 160.0,357.0 C169.3,354.4 180.4,352.0 190.0,350.0 C199.6,348.0 212.8,345.7 217.4,344.9" fill="none" stroke="#111" stroke-width="3.70" stroke-linecap="butt"/>
<path d="M112.4,374.4 C116.0,372.9 126.1,368.5 134.0,365.6 C141.9,362.7 150.7,359.6 160.0,357.0 C169.3,354.4 180.4,352.0 190.0,350.0 C199.6,348.0 212.8,345.7 217.4,344.9" fill="none" stroke="#fff" stroke-width="1.00" stroke-linecap="butt"/>
<g transform="rotate(5 160.0 357.4)"><rect x="158.4" y="353.4" width="3.2" height="8" fill="#fff"/><path class="th" d="M158.4,353.4 q1,2 0,4 q-1,2 0,4 M161.6,353.4 q1,2 0,4 q-1,2 0,4"/></g>
<path d="M99.6,378.0 L112.4,374.0" fill="none" stroke="#111" stroke-width="5.00" stroke-linecap="butt" stroke-linejoin="round"/>
<path d="M99.6,378.0 L112.4,374.0" fill="none" stroke="#fff" stroke-width="2.20" stroke-linecap="butt" stroke-linejoin="round"/>
<path d="M99.6,378.2 L57.0,396.8" fill="none" stroke="#222" stroke-width="2.6"/>
<path d="M99.6,378.2 L57.0,396.8" fill="none" stroke="#fff" stroke-width="0.9"/>
<ellipse cx="78.2" cy="388.5" rx="2.9" ry="2.5" fill="#999" stroke="#111" stroke-width="1.6" transform="rotate(-22 78.2 388.5)"/>
<path d="M40.0,403.5 Q40.0,401.5 41.0,400.1 L41.0,400.1 Q42.0,398.8 44.0,398.6 L48.0,398.1 Q48.5,398.0 49.0,397.9 L56.7,395.9 Q57.5,395.7 57.7,396.5 L58.0,397.7 Q58.2,398.5 57.4,398.8 L50.0,401.3 Q49.5,401.5 49.4,402.0 L48.9,406.0 Q48.8,407.0 48.2,407.8 L47.8,408.4 Q47.2,409.2 46.2,409.3 L42.5,409.4 Q41.5,409.5 41.1,408.6 L40.4,407.1 Q40.0,406.2 40.0,405.2 Z" fill="#fff" stroke="#111" stroke-width="1.8" stroke-linejoin="round"/>
<path class="th" d="M48.6,398.4 L49.6,401.2"/>
<path class="th" d="M42.5,401.5 L45.0,400.5 L46.5,402.5"/>
<path d="M42.7,409.7 L46.5,409.3 L46.5,418.8 L43.1,418.4 Z" fill="#666" stroke="#111" stroke-width="1"/>
<path class="th" d="M42.9,411.5 L46.5,411.1" style="stroke:#ddd;stroke-width:0.6"/>
<path class="th" d="M42.9,413.5 L46.5,413.1" style="stroke:#ddd;stroke-width:0.6"/>
<path class="th" d="M42.9,415.5 L46.5,415.1" style="stroke:#ddd;stroke-width:0.6"/>
<path class="th" d="M42.9,417.2 L46.5,416.8" style="stroke:#ddd;stroke-width:0.6"/>
<path class="pf" d="M41.3,424.5 L41.3,428.9 Q43.6,432.2 46.0,431.4 Q48.4,432.2 50.7,428.9 L50.7,424.5 Z" fill="#eee"/>
<ellipse cx="46.0" cy="424.5" rx="4.7" ry="2.5" fill="#fff" stroke="#111" stroke-width="1.5"/>
<ellipse cx="46.0" cy="424.5" rx="2.1" ry="1.3" fill="#555" stroke="#111" stroke-width="0.8"/>
<path class="th" d="M44.1,427.1 L44.1,430.9 M48.1,427.1 L48.1,430.9" stroke="#888"/>
<path d="M46.0,419.5 L46.0,422.0" stroke="#555" stroke-width="0.9" fill="none"/>
<path d="M46.0,431.5 L46.0,434.5" stroke="#555" stroke-width="0.9" fill="none"/>
<path class="th" d="M217.4,344.9 L245.4,338.8"/>
<path class="th" d="M217.4,345.8 L245.4,340.2"/>
<path d="M245.4,339.5 L257.1,336.3" fill="none" stroke="#111" stroke-width="4.40" stroke-linecap="butt" stroke-linejoin="round"/>
<path d="M245.4,339.5 L257.1,336.3" fill="none" stroke="#fff" stroke-width="1.60" stroke-linecap="butt" stroke-linejoin="round"/>
<circle cx="260.3" cy="336.7" r="3.1" fill="#fff" stroke="#111" stroke-width="1.9"/>
<circle cx="260.3" cy="336.7" r="1.2" fill="#ccc" stroke="#333" stroke-width="0.8"/>
<path d="M288.9,543.2 C292.8,542.2 303.3,538.6 312.5,537.1 C321.7,535.6 335.3,535.1 344.0,534.3 C352.8,533.5 357.4,533.7 365.0,532.6 C372.6,531.4 385.7,528.5 389.9,527.7" fill="none" stroke="#111" stroke-width="3.90" stroke-linecap="butt"/>
<path d="M288.9,543.2 C292.8,542.2 303.3,538.6 312.5,537.1 C321.7,535.6 335.3,535.1 344.0,534.3 C352.8,533.5 357.4,533.7 365.0,532.6 C372.6,531.4 385.7,528.5 389.9,527.7" fill="none" stroke="#fff" stroke-width="1.20" stroke-linecap="butt"/>
<g transform="rotate(3 344.4 534.7)"><rect x="342.8" y="530.7" width="3.2" height="8" fill="#fff"/><path class="th" d="M342.8,530.7 q1,2 0,4 q-1,2 0,4 M346.0,530.7 q1,2 0,4 q-1,2 0,4"/></g>
<path d="M275.4,545.9 L288.9,542.5" fill="none" stroke="#111" stroke-width="6.20" stroke-linecap="round" stroke-linejoin="round"/>
<path d="M275.4,545.9 L288.9,542.5" fill="none" stroke="#fff" stroke-width="3.40" stroke-linecap="round" stroke-linejoin="round"/>
<path d="M390.4,527.5 L400.0,525.7" fill="none" stroke="#111" stroke-width="6.20" stroke-linecap="round" stroke-linejoin="round"/>
<path d="M390.4,527.5 L400.0,525.7" fill="none" stroke="#fff" stroke-width="3.40" stroke-linecap="round" stroke-linejoin="round"/>
<ellipse cx="258.0" cy="551.4" rx="3.6" ry="3.2" fill="#ccc" stroke="#111" stroke-width="1.8" transform="rotate(-18 258.0 551.4)"/>
<ellipse cx="266.8" cy="548.4" rx="3.4" ry="3.2" fill="#ccc" stroke="#111" stroke-width="1.8" transform="rotate(-18 266.8 548.4)"/>
<path class="th" d="M256.0,549.2 L257.2,553.6"/>
<path class="th" d="M265.2,546.4 L266.4,550.6"/>
<path class="p" d="M270.0,548.0 L276.4,545.6"/>
<path class="p" d="M261.6,550.8 L263.6,550.0"/>
<path d="M227.6,560.0 L254.4,551.0" fill="none" stroke="#222" stroke-width="2.3"/>
<path d="M227.6,560.0 L254.4,551.0" fill="none" stroke="#fff" stroke-width="1.00" stroke-dasharray="1.0 1.8"/>
<path class="pf" d="M199.0,571.0 L202.0,568.0 L214.0,567.0 L218.0,565.0 L218.0,560.0 L224.0,558.0 L227.6,560.4 L227.6,564.0 L221.0,566.0 L220.0,570.0 L214.0,572.0 L205.0,575.4 L200.0,575.4 Z"/>
<circle class="th" cx="203.0" cy="571.6" r="1.3"/>
<path d="M389.6,527.4 L401.9,525.2" fill="none" stroke="#111" stroke-width="6.20" stroke-linecap="round" stroke-linejoin="round"/>
<path d="M389.6,527.4 L401.9,525.2" fill="none" stroke="#fff" stroke-width="3.40" stroke-linecap="round" stroke-linejoin="round"/>
<path class="p" d="M380.0,531.1 L389.1,528.1"/>
<path d="M402.8,524.8 L443.8,513.2" fill="none" stroke="#222" stroke-width="2.4"/>
<path d="M402.8,524.8 L443.8,513.2" fill="none" stroke="#fff" stroke-width="1.10" stroke-dasharray="1.0 1.8"/>
<path d="M443.5,513.4 L452.8,508.8" fill="none" stroke="#111" stroke-width="4.40" stroke-linecap="butt" stroke-linejoin="round"/>
<path d="M443.5,513.4 L452.8,508.8" fill="none" stroke="#fff" stroke-width="1.60" stroke-linecap="butt" stroke-linejoin="round"/>
<path d="M452.8,508.8 C453.5,507.7 456.0,505.2 457.5,504.6 C459.0,504.0 460.9,504.4 461.9,505.0 C462.9,505.6 463.5,507.1 463.4,508.2 C463.3,509.4 462.4,511.0 461.2,511.8 C460.1,512.5 457.7,512.9 456.2,512.8 C454.8,512.6 453.3,511.4 452.8,510.8 C452.2,510.1 452.0,509.8 452.8,508.8 Z" fill="#fff" stroke="#111" stroke-width="2.0"/>
<path d="M455.9,508.4 C456.2,507.7 458.0,506.8 458.8,506.8 C459.5,506.7 460.5,507.6 460.6,508.2 C460.7,508.9 460.1,510.1 459.4,510.5 C458.7,510.9 457.1,511.0 456.5,510.6 C455.9,510.3 455.5,509.0 455.9,508.4 Z" fill="#fff" stroke="#111" stroke-width="1.2"/>
<path d="M395.4,535.7 C392.3,539.5 394.9,545.6 399.3,546.2 C402.8,543.9 401.9,538.6 398.4,536.4" fill="none" stroke="#111" stroke-width="1.8"/>
<path class="th" d="M396.6,539.5 L399.3,541.6"/>
<path d="M475.8,505.8 L496.2,502.0 L495.1,496.0 L474.7,499.7 Z" fill="#fff" stroke="#222" stroke-width="1.5"/>
<path d="M475.2,505.9 L475.3,499.6 M477.8,505.4 L477.8,499.1 M480.3,505.0 L480.4,498.7 M482.9,504.5 L482.9,498.2 M485.4,504.0 L485.5,497.7 M488.0,503.6 L488.0,497.2 M490.5,503.1 L490.6,496.8 M493.0,502.6 L493.1,496.3 M495.6,502.2 L495.7,495.8 " fill="none" stroke="#222" stroke-width="1.5"/>
<path class="p" d="M475.6,499.8 C474.8,500.2 471.8,501.7 470.6,502.8 C469.5,503.8 468.6,505.1 468.8,506.0 C468.9,506.9 470.2,508.2 471.5,508.2 C472.8,508.3 475.5,506.8 476.2,506.5"/>
<path class="p" d="M495.6,497.5 C496.4,497.1 498.6,495.5 500.0,495.2 C501.4,495.0 503.0,495.7 503.8,496.2 C504.5,496.8 504.8,498.1 504.5,498.8 C504.2,499.4 502.3,499.8 501.9,500.0"/>
<path d="M145.2,596.5 L184.4,581.1 L182.8,576.9 L143.6,592.3 Z" fill="#fff" stroke="#222" stroke-width="1.0"/>
<path d="M144.7,596.8 L144.1,592.0 M146.5,596.1 L145.9,591.3 M148.2,595.4 L147.7,590.6 M150.0,594.7 L149.5,589.9 M151.8,594.0 L151.2,589.2 M153.6,593.3 L153.0,588.5 M155.4,592.6 L154.8,587.8 M157.2,591.9 L156.6,587.1 M158.9,591.2 L158.4,586.4 M160.7,590.5 L160.2,585.7 M162.5,589.8 L161.9,585.0 M164.3,589.1 L163.7,584.3 M166.1,588.4 L165.5,583.6 M167.8,587.7 L167.3,582.9 M169.6,587.0 L169.1,582.2 M171.4,586.3 L170.8,581.5 M173.2,585.6 L172.6,580.8 M175.0,584.9 L174.4,580.1 M176.8,584.2 L176.2,579.4 M178.5,583.5 L178.0,578.7 M180.3,582.8 L179.8,578.0 M182.1,582.1 L181.5,577.3 M183.9,581.4 L183.3,576.6 " fill="none" stroke="#222" stroke-width="1.0"/>
<path class="p" d="M144.4,594.4 C143.8,594.7 142.0,595.3 141.0,596.0 C140.0,596.7 138.6,597.7 138.4,598.4 C138.2,599.1 139.7,599.7 140.0,600.0"/>
<path class="p" d="M183.6,579.0 C184.2,578.5 185.9,576.8 187.0,576.0 C188.1,575.2 189.6,574.3 190.0,574.4 C190.4,574.5 189.7,576.1 189.6,576.4"/>
<!--TEXT-->
<g id="labels" style="filter:grayscale(1)">
<text x="22.5" y="126.3" style="font-size:36.5px;font-weight:bold;fill:#111">H</text>
<text class="t" x="73" y="229.8" textLength="80.6" lengthAdjust="spacingAndGlyphs">506 50 62-02</text>
<text class="t" x="403.5" y="150.2" textLength="80.6" lengthAdjust="spacingAndGlyphs">732 21 18-01</text>
<text class="t" x="403.5" y="164.2" textLength="80.6" lengthAdjust="spacingAndGlyphs">506 80 41-01</text>
<text class="t" x="403.5" y="178.2" textLength="80.6" lengthAdjust="spacingAndGlyphs">506 95 41-01</text>
<text class="t" x="437" y="196.2" textLength="80.6" lengthAdjust="spacingAndGlyphs">732 21 18-01</text>
<text class="t" x="437" y="210.2" textLength="80.6" lengthAdjust="spacingAndGlyphs">506 80 41-01</text>
<text class="t" x="437" y="224.2" textLength="80.6" lengthAdjust="spacingAndGlyphs">506 50 65-01</text>
<text class="t" x="466" y="243.7" textLength="80.6" lengthAdjust="spacingAndGlyphs">732 21 18-01</text>
<text class="t" x="466" y="257.7" textLength="80.6" lengthAdjust="spacingAndGlyphs">734 11 64-01</text>
<text class="t" x="594.5" y="243.7" textLength="80.6" lengthAdjust="spacingAndGlyphs">506 55 73-01</text>
<text class="t" x="594.5" y="257.7" textLength="80.6" lengthAdjust="spacingAndGlyphs">732 21 14-01</text>
<text class="t" x="688" y="222.7" textLength="80.6" lengthAdjust="spacingAndGlyphs">506 50 62-01</text>
<text class="t" x="466" y="348.2" textLength="80.6" lengthAdjust="spacingAndGlyphs">738 21 02-04</text>
<text class="t" x="530.5" y="429.2" textLength="80.6" lengthAdjust="spacingAndGlyphs">725 24 53-51</text>
<text class="t" x="530.5" y="443.2" textLength="80.6" lengthAdjust="spacingAndGlyphs">734 11 64-01</text>
<text class="t" x="530.5" y="457.2" textLength="80.6" lengthAdjust="spacingAndGlyphs">506 95 41-01</text>
<text class="t" x="530.5" y="471.2" textLength="80.6" lengthAdjust="spacingAndGlyphs">732 21 18-01</text>
<text class="t" x="675.5" y="443.2" textLength="80.6" lengthAdjust="spacingAndGlyphs">506 79 43-01</text>
<text class="t" x="110.5" y="313.2" textLength="80.6" lengthAdjust="spacingAndGlyphs">506 55 73-01</text>
<text class="t" x="45.5" y="332.2" textLength="80.6" lengthAdjust="spacingAndGlyphs">506 82 72-02</text>
<text class="t" x="193.5" y="380.7" textLength="80.6" lengthAdjust="spacingAndGlyphs">506 96 53-01</text>
<text class="t" x="107" y="429.2" textLength="80.6" lengthAdjust="spacingAndGlyphs">506 55 73-01</text>
<text class="t" x="107" y="443.2" textLength="80.6" lengthAdjust="spacingAndGlyphs">732 21 14-01</text>
<text class="t" x="233.5" y="462.2" textLength="80.6" lengthAdjust="spacingAndGlyphs">506 57 01-04</text>
<text class="t" x="233.5" y="476.2" textLength="80.6" lengthAdjust="spacingAndGlyphs">725 24 57-51</text>
<text class="t" x="277" y="493.7" textLength="80.6" lengthAdjust="spacingAndGlyphs">725 24 62-51</text>
<text class="t" x="277" y="507.7" textLength="80.6" lengthAdjust="spacingAndGlyphs">725 24 61-51</text>
<text class="t" x="237" y="630.2" textLength="80.6" lengthAdjust="spacingAndGlyphs">506 53 56-03</text>
<text class="t" x="383.5" y="608.7" textLength="80.6" lengthAdjust="spacingAndGlyphs">506 99 27-01</text>
<text class="t" x="506.5" y="564.2" textLength="80.6" lengthAdjust="spacingAndGlyphs">506 94 63-01</text>
<text class="t" x="506.5" y="578.2" textLength="80.6" lengthAdjust="spacingAndGlyphs">735 31 09-20</text>
<text class="t" x="672" y="533.7" textLength="80.6" lengthAdjust="spacingAndGlyphs">506 95 99-01</text>
<text class="b" x="266.3" y="137.1">506 94 71-02</text>
<text class="b" x="636.6" y="387.8">506 96 01-03</text>
<text class="b" x="576" y="639.2" textLength="80.8" lengthAdjust="spacingAndGlyphs">xxx xx xx-xx</text>
<text class="b" x="664.2" y="639.2">=</text>
<text class="b" x="686" y="637.7">New part,</text>
<text class="b" x="686" y="651.7">Neues teil,</text>
<text class="b" x="686" y="665.7">Nouvelle piece,</text>
<text class="b" x="686" y="679.5">Nueva pieza,</text>
<text class="b" x="686" y="693.5">Ny detalj</text>
</g>
<rect id="hl" x="41.9" y="321.3" width="79.4" height="13.8" fill="#f47920" fill-opacity="0.32" stroke="#f4700f" stroke-width="2.3"/>
</svg>
</body></html>
